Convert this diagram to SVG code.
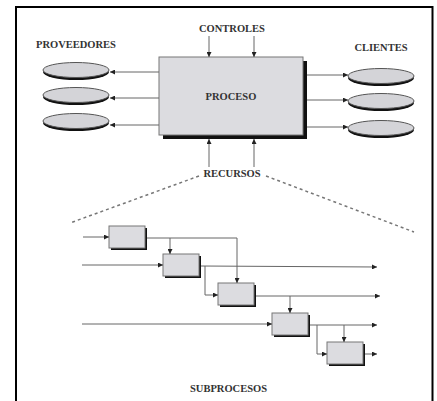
<svg xmlns="http://www.w3.org/2000/svg" width="437" height="401" viewBox="0 0 437 401">
  <defs>
    <marker id="arrow" viewBox="0 0 10 10" refX="10" refY="5" markerWidth="5" markerHeight="5" orient="auto" markerUnits="userSpaceOnUse">
      <path d="M0,0 L10,5 L0,10 z" fill="#222"/>
    </marker>
  </defs>
  <style>
    .lbl { font-family: "Liberation Serif", "Times New Roman", serif; font-weight: bold; font-size: 10.5px; fill: #333; text-anchor: middle; }
    .conn { stroke: #666; stroke-width: 1; fill: none; marker-end: url(#arrow); }
    .plain { stroke: #666; stroke-width: 1; fill: none; }
    .dash { stroke: #777; stroke-width: 1.5; fill: none; stroke-dasharray: 3 3; }
    .box { fill: #dcdce0; stroke: #777; stroke-width: 1; }
    .shadow { fill: #111; }
    .ell { fill: #d4d4d8; stroke: #555; stroke-width: 1; }
    .ellsh { fill: #111; }
  </style>

  <rect width="437" height="401" fill="#fff"/>
  <!-- outer frame, open at the bottom -->
  <path d="M16,402 V7 H432.5 V402" fill="none" stroke="#000" stroke-width="2"/>

  <!-- main process -->
  <g id="proceso">
    <rect class="shadow" x="163" y="61" width="144" height="78"/>
    <rect class="box" x="159" y="57" width="144" height="78"/>
    <text class="lbl" x="231" y="100">PROCESO</text>
  </g>

  <g id="controles"><text class="lbl" x="232" y="32">CONTROLES</text></g>
  <g id="recursos"><text class="lbl" x="232" y="177">RECURSOS</text></g>
  <g id="proveedores-label"><text class="lbl" x="76" y="48">PROVEEDORES</text></g>
  <g id="clientes-label"><text class="lbl" x="381" y="51">CLIENTES</text></g>
  <g id="subprocesos-label"><text class="lbl" x="228.5" y="392">SUBPROCESOS</text></g>

  <!-- suppliers -->
  <g id="proveedor-1"><ellipse class="ellsh" cx="76" cy="72" rx="33" ry="8"/><ellipse class="ell" cx="76" cy="70" rx="33" ry="7.5"/></g>
  <g id="proveedor-2"><ellipse class="ellsh" cx="76" cy="97" rx="33" ry="8"/><ellipse class="ell" cx="76" cy="95" rx="33" ry="7.5"/></g>
  <g id="proveedor-3"><ellipse class="ellsh" cx="76" cy="123" rx="33" ry="8"/><ellipse class="ell" cx="76" cy="121" rx="33" ry="7.5"/></g>

  <!-- customers -->
  <g id="cliente-1"><ellipse class="ellsh" cx="381" cy="78" rx="33" ry="8"/><ellipse class="ell" cx="381" cy="76" rx="33" ry="7.5"/></g>
  <g id="cliente-2"><ellipse class="ellsh" cx="381" cy="103" rx="33" ry="8"/><ellipse class="ell" cx="381" cy="101" rx="33" ry="7.5"/></g>
  <g id="cliente-3"><ellipse class="ellsh" cx="381" cy="130" rx="33" ry="8"/><ellipse class="ell" cx="381" cy="128" rx="33" ry="7.5"/></g>

  <!-- subprocesses -->
  <g id="sub-1"><rect class="shadow" x="111" y="228" width="36" height="22"/><rect class="box" x="109" y="226" width="36" height="22"/></g>
  <g id="sub-2"><rect class="shadow" x="165" y="256" width="36" height="22"/><rect class="box" x="163" y="254" width="36" height="22"/></g>
  <g id="sub-3"><rect class="shadow" x="220" y="285" width="36" height="22"/><rect class="box" x="218" y="283" width="36" height="22"/></g>
  <g id="sub-4"><rect class="shadow" x="274" y="315" width="36" height="22"/><rect class="box" x="272" y="313" width="36" height="22"/></g>
  <g id="sub-5"><rect class="shadow" x="329" y="344" width="36" height="22"/><rect class="box" x="327" y="342" width="36" height="22"/></g>

  <g id="connectors">
    <!-- controls and resources -->
    <line class="conn" x1="209" y1="36" x2="209" y2="57"/>
    <line class="conn" x1="254" y1="36" x2="254" y2="57"/>
    <line class="conn" x1="209" y1="167" x2="209" y2="139"/>
    <line class="conn" x1="254" y1="167" x2="254" y2="139"/>
    <!-- to suppliers -->
    <line class="conn" x1="159" y1="72" x2="110" y2="72"/>
    <line class="conn" x1="159" y1="98" x2="110" y2="98"/>
    <line class="conn" x1="159" y1="125" x2="110" y2="125"/>
    <!-- to customers -->
    <line class="conn" x1="307" y1="75" x2="348" y2="75"/>
    <line class="conn" x1="307" y1="100" x2="348" y2="100"/>
    <line class="conn" x1="307" y1="127" x2="348" y2="127"/>
    <!-- zoom lines -->
    <line class="dash" x1="199" y1="176" x2="70" y2="223"/>
    <line class="dash" x1="266" y1="176" x2="414" y2="232"/>

    <!-- subprocess flow -->
    <line class="conn" x1="83" y1="237" x2="109" y2="237"/>
    <path class="conn" d="M147,238 H237 V283"/>
    <line class="conn" x1="170" y1="238" x2="170" y2="254"/>
    <line class="conn" x1="82" y1="265" x2="163" y2="265"/>
    <line class="conn" x1="201" y1="266" x2="377" y2="267"/>
    <path class="conn" d="M205,266 V295 H218"/>
    <line class="conn" x1="256" y1="296" x2="380" y2="296"/>
    <line class="conn" x1="290" y1="296" x2="290" y2="313"/>
    <line class="conn" x1="82" y1="324" x2="272" y2="324"/>
    <line class="conn" x1="310" y1="325" x2="377" y2="325"/>
    <path class="conn" d="M317,325 V354 H327"/>
    <line class="conn" x1="344" y1="325" x2="344" y2="342"/>
    <line class="conn" x1="365" y1="354" x2="377" y2="354"/>
  </g>
</svg>
